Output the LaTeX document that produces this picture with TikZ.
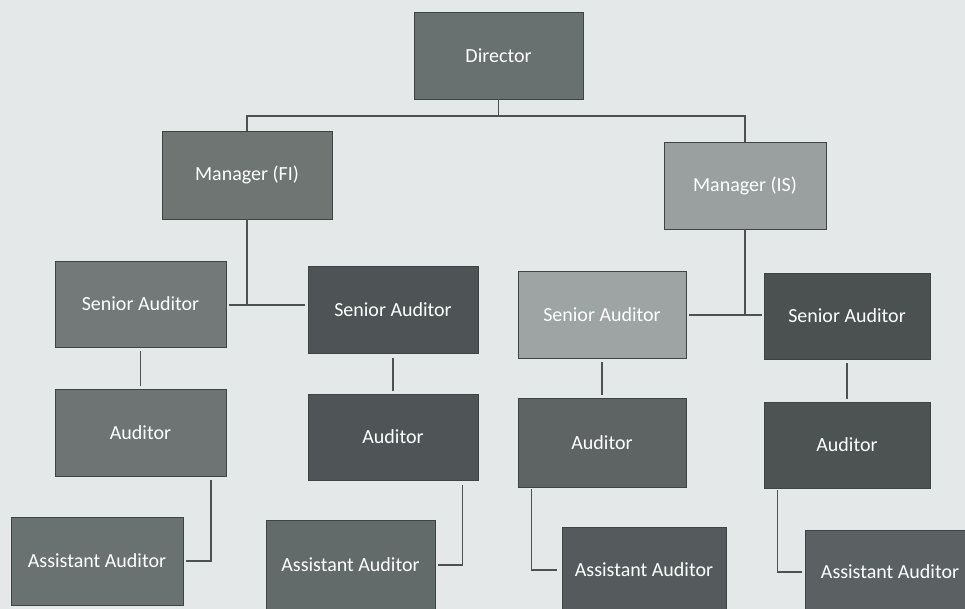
\documentclass[tikz,border=0pt]{standalone}
\usepackage{fontspec}
\setmainfont{Carlito}
\definecolor{bg}{HTML}{E4E8E9}
\definecolor{edge}{HTML}{3E4344}
\definecolor{lineC}{HTML}{4C5152}
\definecolor{cDir}{HTML}{697070}
\definecolor{cMFI}{HTML}{6E7573}
\definecolor{cMIS}{HTML}{9A9F9F}
\definecolor{cSAa}{HTML}{727978}
\definecolor{cSAb}{HTML}{4E5455}
\definecolor{cSAc}{HTML}{9EA3A3}
\definecolor{cSAd}{HTML}{4B5051}
\definecolor{cAa}{HTML}{6E7473}
\definecolor{cAb}{HTML}{4F5556}
\definecolor{cAc}{HTML}{5E6464}
\definecolor{cAd}{HTML}{4D5253}
\definecolor{cAAa}{HTML}{6A7171}
\definecolor{cAAb}{HTML}{636A6A}
\definecolor{cAAc}{HTML}{555B5C}
\definecolor{cAAd}{HTML}{5B6162}
\tikzset{
  box/.style={draw=edge, line width=0.8pt, rectangle, text=white, inner sep=0pt,
    font=\fontsize{20}{24}\selectfont},
  conn/.style={draw=lineC, line width=1.4pt}
}
\begin{document}
\begin{tikzpicture}[x=1pt,y=-1pt]
\fill[bg] (0,0) rectangle (965,609);
\useasboundingbox (0,0) rectangle (965,609);
\clip (0,0) rectangle (965,609);

% level 0
\node[box, fill=cDir, minimum width=169pt, minimum height=87pt] (dir) at (498.5,55.5) {Director};
% level 1
\node[box, fill=cMFI, minimum width=170pt, minimum height=88pt] (mfi) at (247,175) {Manager (FI)};
\node[box, fill=cMIS, minimum width=162pt, minimum height=87pt] (mis) at (745,185.5) {Manager (IS)};
% level 2
\node[box, fill=cSAa, minimum width=171pt, minimum height=86pt] (sa1) at (140.5,304) {Senior Auditor};
\node[box, fill=cSAb, minimum width=170pt, minimum height=87pt] (sa2) at (393,310) {Senior Auditor};
\node[box, fill=cSAc, minimum width=168pt, minimum height=87pt] (sa3) at (602,314.5) {Senior Auditor};
\node[box, fill=cSAd, minimum width=166pt, minimum height=86pt] (sa4) at (847,316) {Senior Auditor};
% level 3
\node[box, fill=cAa, minimum width=171pt, minimum height=87pt] (a1) at (140.5,432.5) {Auditor};
\node[box, fill=cAb, minimum width=170pt, minimum height=86pt] (a2) at (393,437) {Auditor};
\node[box, fill=cAc, minimum width=168pt, minimum height=89pt] (a3) at (602,442.5) {Auditor};
\node[box, fill=cAd, minimum width=166pt, minimum height=86pt] (a4) at (847,445) {Auditor};
% level 4
\node[box, fill=cAAa, minimum width=172pt, minimum height=88pt] (aa1) at (97,561) {Assistant Auditor};
\node[box, fill=cAAb, minimum width=169pt, minimum height=90pt] (aa2) at (350.5,565) {Assistant Auditor};
\node[box, fill=cAAc, minimum width=164pt, minimum height=86pt] (aa3) at (644,570) {Assistant Auditor};
\node[box, fill=cAAd, minimum width=170pt, minimum height=84pt] (aa4) at (890,572) {Assistant Auditor};

% connectors
\coordinate (j0) at (498.5,116);
\coordinate (j1) at (247,305);
\coordinate (j2) at (745,315);
\draw[conn] (dir.south) -- (j0);
\draw[conn] (mfi.north) |- (j0) -| (mis.north);
\draw[conn] (mfi.south) -- (j1);
\draw[conn] ([xshift=3pt]sa1.east |- j1) -- ([xshift=-3pt]sa2.west |- j1);
\draw[conn] (mis.south) -- (j2);
\draw[conn] ([xshift=3pt]sa3.east |- j2) -- ([xshift=-2pt]sa4.west |- j2);
\draw[conn] ([yshift=-4pt]sa1.south) -- ([yshift=3pt]a1.north);
\draw[conn] ([yshift=-4pt]sa2.south) -- ([yshift=3pt]a2.north);
\draw[conn] ([yshift=-4pt]sa3.south) -- ([yshift=3pt]a3.north);
\draw[conn] ([yshift=-4pt]sa4.south) -- ([yshift=3pt]a4.north);
\draw[conn] ([xshift=-15.5pt,yshift=-4pt]a1.south east) |- ([xshift=3pt]aa1.east);
\draw[conn] ([xshift=-16pt,yshift=-5pt]a2.south east) |- ([xshift=3pt]aa2.east);
\draw[conn] ([xshift=14pt,yshift=-2pt]a3.south west) |- ([xshift=-5pt]aa3.west);
\draw[conn] ([xshift=14pt,yshift=-2pt]a4.south west) |- ([xshift=-3pt]aa4.west);
\end{tikzpicture}
\end{document}
